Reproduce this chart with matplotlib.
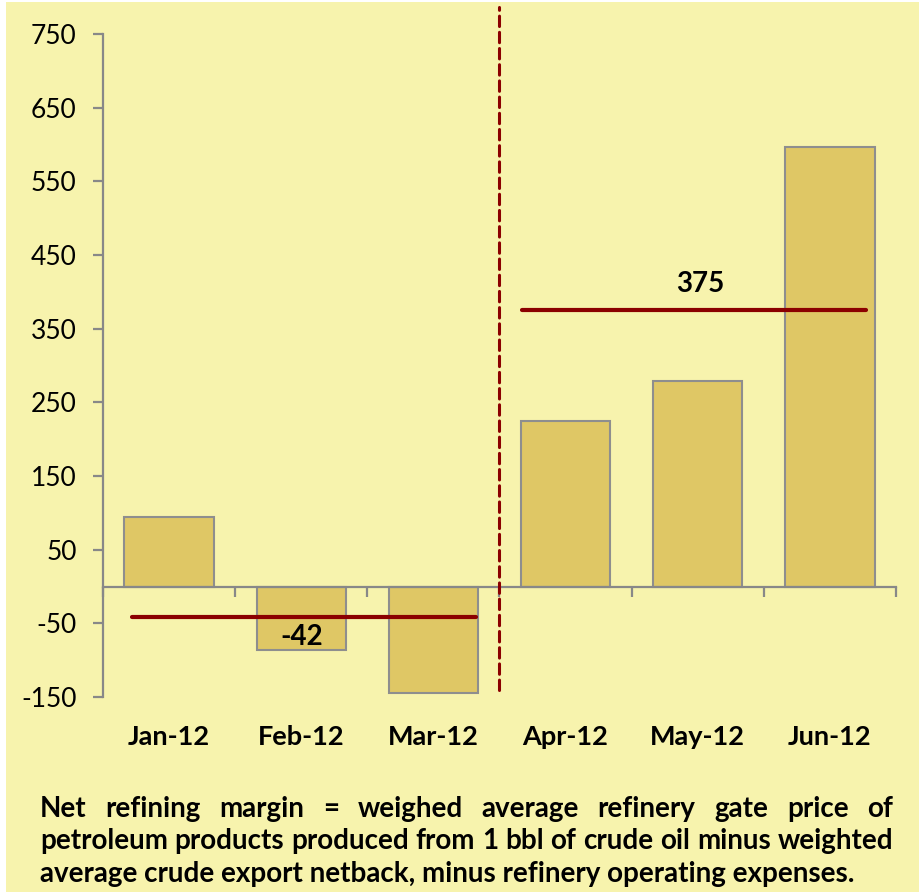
import matplotlib
matplotlib.use("Agg")
import matplotlib.pyplot as plt
from matplotlib.patches import Rectangle
import matplotlib.transforms as mtransforms

# ---- data ----
months = ["Jan-12", "Feb-12", "Mar-12", "Apr-12", "May-12", "Jun-12"]
margins = [95, -86, -145, 225, 279, 597]
avg_q1 = -42
avg_q2 = 375
y_ticks = [-150, -50, 50, 150, 250, 350, 450, 550, 650, 750]
y_tick_labels = ["-150", "-50", "50", "150", "250", "350", "450", "550", "650", "750"]
note_lines = [
    "Net refining margin = weighed average refinery gate price of",
    "petroleum products produced from 1 bbl of crude oil minus weighted",
    "average crude export netback, minus refinery operating expenses.",
]

BG = "#F7F3AD"
BAR = "#DFC765"
EDGE = "#8E8E8E"
AXC = "#888888"
RED = "#8B0000"
FONT = "Lato"

W, H = 919, 892
fig = plt.figure(figsize=(W / 100, H / 100), dpi=100)
fig.patch.set_facecolor("white")
fig.patches.append(Rectangle((6 / W, 0), 1 - 6 / W, 1 - 2 / H, transform=fig.transFigure,
                             facecolor=BG, edgecolor="none", zorder=-10))

ax = fig.add_axes([103 / W, 195 / H, (896 - 103) / W, (858 - 195) / H])
ax.set_facecolor("none")

x = list(range(len(months)))
ax.bar(x, margins, width=0.675, color=BAR, edgecolor=EDGE, linewidth=1.5, zorder=2)

ax.set_xlim(-0.5, len(months) - 0.5)
ax.set_ylim(-150, 750)

# spines
for s in ["top", "right"]:
    ax.spines[s].set_visible(False)
ax.spines["left"].set_color(AXC)
ax.spines["left"].set_linewidth(1.6)
ax.spines["bottom"].set_position(("data", 0))
ax.spines["bottom"].set_color(AXC)
ax.spines["bottom"].set_linewidth(1.6)
ax.spines["bottom"].set_zorder(3)

ax.set_yticks(y_ticks)
ax.set_yticklabels(y_tick_labels, fontfamily=FONT, fontsize=19)
ax.tick_params(axis="y", length=7, width=1.6, color=AXC, pad=12, labelcolor="black")

bounds = [i - 0.5 for i in range(len(months) + 1)]
ax.set_xticks(bounds)
ax.set_xticklabels([])
ax.tick_params(axis="x", length=7, width=1.6, color=AXC, direction="out")

# category labels at bottom
trans = mtransforms.blended_transform_factory(ax.transData, ax.transAxes)
for xi, m in zip(x, months):
    ax.text(xi, -0.06, m, transform=trans, ha="center", va="center",
            fontfamily=FONT, fontweight="bold", fontsize=19.5)

# average lines
ax.plot([-0.28, 2.32], [avg_q1, avg_q1], color=RED, lw=3, solid_capstyle="round", zorder=4)
ax.plot([2.67, 5.27], [avg_q2, avg_q2], color=RED, lw=3, solid_capstyle="round", zorder=4)
ax.text(1.0, -68, str(avg_q1), ha="center", va="center", fontfamily=FONT,
        fontweight="bold", fontsize=20, zorder=5)
ax.text(4.02, 411, str(avg_q2), ha="center", va="center", fontfamily=FONT,
        fontweight="bold", fontsize=20, zorder=5)

# dashed divider
ax.plot([2.5, 2.5], [-140, 787], color=RED, lw=2.2, dashes=(3.4, 1.9),
        dash_capstyle="round", clip_on=False, zorder=5)

# justified note text
renderer = fig.canvas.get_renderer()


def text_w(s, fs):
    t = fig.text(0, 0, s, fontsize=fs, fontweight="bold", fontfamily=FONT)
    w = t.get_window_extent(renderer).width
    t.remove()
    return w


left_px, right_px = 40, 893
target = right_px - left_px
fs = 20 * target / text_w(note_lines[1], 20)
baselines = [817, 849, 882]
for li, (line, by) in enumerate(zip(note_lines, baselines)):
    words = line.split(" ")
    if li < len(note_lines) - 1:
        ws = [text_w(w_, fs) for w_ in words]
        gap = (target - sum(ws)) / (len(words) - 1)
        xp = left_px
        for w_, ww in zip(words, ws):
            fig.text(xp / W, 1 - by / H, w_, fontsize=fs, fontweight="bold",
                     fontfamily=FONT, ha="left", va="baseline")
            xp += ww + gap
    else:
        fig.text(left_px / W, 1 - by / H, line, fontsize=fs, fontweight="bold",
                 fontfamily=FONT, ha="left", va="baseline")

fig.savefig("out.png", dpi=100, facecolor=fig.get_facecolor())
